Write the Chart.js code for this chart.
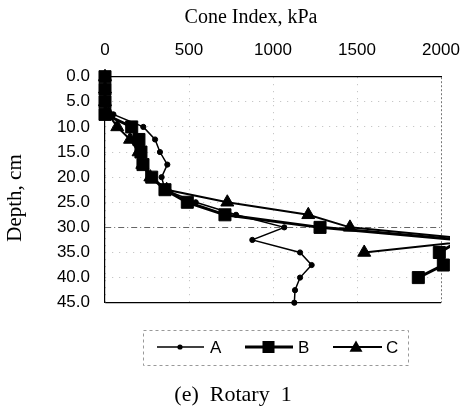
<!DOCTYPE html>
<html>
<head>
<meta charset="utf-8">
<script src="https://cdn.jsdelivr.net/npm/chart.js@4/dist/chart.umd.min.js"></script>
<style>
html,body{margin:0;padding:0;background:#fff;}
canvas{display:block;}
</style>
</head>
<body>
<canvas id="c" width="461" height="408"></canvas>
<script>
// ---- data ----
const depths  = [0, 2.5, 5, 7.5, 10, 12.5, 15, 17.5, 20, 22.5, 25, 27.5, 30, 32.5, 35, 37.5, 40, 42.5, 45];
const seriesA = [0, 0, 0, 50, 228, 298, 327, 371, 337, 357, 540, 780, 1067, 877, 1161, 1230, 1161, 1131, 1127];
const seriesB = [0, 0, 0, 0, 159, 202, 214, 226, 278, 357, 490, 714, 1280, 2120, 1990, 2014, 1865, null, null];
const seriesC = [0, 0, 0, 20, 73, 149, 200, 222, 270, 367, 728, 1210, 1458, 2230, 1543, null, null, null, null];
const seriesNames = ['A', 'B', 'C'];
const xTicks = [0, 500, 1000, 1500, 2000];
const yTicks = [0, 5, 10, 15, 20, 25, 30, 35, 40, 45];
const xTitle = 'Cone Index, kPa';
const yTitle = 'Depth, cm';
const caption = '(e)  Rotary  1';

function toPoints(vals) {
  const out = [];
  vals.forEach((v, i) => { if (v !== null) out.push({x: v, y: depths[i]}); });
  return out;
}

const clipBox = {left: 12, top: 12, right: 9, bottom: 12};

const datasets = [
  {label: seriesNames[0], data: toPoints(seriesA), borderColor: '#000', backgroundColor: '#000',
   borderWidth: 1.5, pointStyle: 'circle', pointRadius: 2.6, pointBorderWidth: 1, clip: clipBox},
  {label: seriesNames[1], data: toPoints(seriesB), borderColor: '#000', backgroundColor: '#000',
   borderWidth: 3, pointStyle: 'rect', pointRadius: 8.5, pointBorderWidth: 1, clip: clipBox},
  {label: seriesNames[2], data: toPoints(seriesC), borderColor: '#000', backgroundColor: '#000',
   borderWidth: 2, pointStyle: 'triangle', pointRadius: 7.5, pointBorderWidth: 1, clip: clipBox}
];

function drawMarker(ctx, style, r, x, y) {
  ctx.beginPath();
  if (style === 'circle') {
    ctx.arc(x, y, r, 0, Math.PI * 2);
  } else if (style === 'rect') {
    const s = Math.SQRT1_2 * r;
    ctx.rect(x - s, y - s, 2 * s, 2 * s);
  } else if (style === 'triangle') {
    let a = 0;
    ctx.moveTo(x + Math.sin(a) * r, y - Math.cos(a) * r);
    a += Math.PI * 2 / 3;
    ctx.lineTo(x + Math.sin(a) * r, y - Math.cos(a) * r);
    a += Math.PI * 2 / 3;
    ctx.lineTo(x + Math.sin(a) * r, y - Math.cos(a) * r);
    ctx.closePath();
  }
  ctx.fill();
}

const annot = {
  id: 'annot',
  afterDraw(chart) {
    const ctx = chart.ctx;
    ctx.save();
    ctx.fillStyle = '#000';
    ctx.textAlign = 'center';
    ctx.textBaseline = 'middle';
    ctx.font = '20px "Liberation Serif"';
    ctx.fillText(xTitle, 251, 18);
    ctx.save();
    ctx.translate(15, 198);
    ctx.rotate(-Math.PI / 2);
    ctx.font = '21px "Liberation Serif"';
    ctx.fillText(yTitle, 0, 0);
    ctx.restore();

    // legend box
    ctx.save();
    ctx.setLineDash([3, 3]);
    ctx.strokeStyle = '#999';
    ctx.lineWidth = 1;
    ctx.strokeRect(143.5, 330.5, 265, 35);
    ctx.restore();

    const ly = 347;
    const items = [[157, 204, 180, 210], [245, 293, 268.5, 298], [333, 382, 356, 386]];
    chart.data.datasets.forEach((ds, i) => {
      const [x0, x1, mx, tx] = items[i];
      ctx.strokeStyle = '#000';
      ctx.lineWidth = ds.borderWidth;
      ctx.beginPath(); ctx.moveTo(x0, ly); ctx.lineTo(x1, ly); ctx.stroke();
      ctx.fillStyle = '#000';
      drawMarker(ctx, ds.pointStyle, ds.pointRadius, mx, ly + (ds.pointStyle === 'triangle' ? 1 : 0));
      ctx.font = '17px "Liberation Sans"';
      ctx.textAlign = 'left';
      ctx.textBaseline = 'middle';
      ctx.fillText(ds.label, tx, ly + 1);
    });

    ctx.font = '22px "Liberation Serif"';
    ctx.textAlign = 'center';
    ctx.textBaseline = 'alphabetic';
    ctx.fillText(caption, 233, 401);
    ctx.restore();
  }
};

new Chart(document.getElementById('c'), {
  type: 'scatter',
  data: {datasets},
  options: {
    responsive: false,
    animation: false,
    showLine: true,
    layout: {padding: {left: 0, top: 0, right: 20, bottom: 105.3}},
    plugins: {legend: {display: false}, tooltip: {enabled: false}},
    elements: {line: {tension: 0}},
    scales: {
      x: {
        type: 'linear', position: 'top', min: 0, max: 2000,
        afterBuildTicks: s => { s.ticks = xTicks.map(v => ({value: v})); },
        afterFit: s => { s.height = 76.7; s.paddingLeft = 0; s.paddingRight = 0; },
        ticks: {color: '#000', font: {family: 'Liberation Sans', size: 17}, padding: 16,
          callback: v => String(v)},
        grid: {
          drawTicks: false,
          color: c => (c.tick && c.tick.value === 2000) ? '#777' : '#bbb',
          lineWidth: 1
        },
        border: {color: '#000', width: 1.2,
          dash: c => (c.tick && c.tick.value === 2000) ? [2, 2] : [1, 6]}
      },
      y: {
        type: 'linear', position: 'left', min: 0, max: 45, reverse: true,
        afterBuildTicks: s => { s.ticks = yTicks.map(v => ({value: v})); },
        afterFit: s => { s.width = 105; s.paddingTop = 0; s.paddingBottom = 0; },
        ticks: {color: '#000', font: {family: 'Liberation Sans', size: 17}, padding: 15,
          callback: v => Number(v).toFixed(1)},
        grid: {
          drawTicks: false,
          color: c => {
            if (!c.tick) return '#bbb';
            if (c.tick.value === 45) return '#000';
            if (c.tick.value === 30) return '#666';
            return '#bbb';
          },
          lineWidth: c => (c.tick && c.tick.value === 45) ? 1.2 : 1
        },
        border: {color: '#000', width: 1.2,
          dash: c => {
            if (!c.tick) return [];
            if (c.tick.value === 45) return [];
            if (c.tick.value === 30) return [6, 3, 1, 3];
            return [1, 6];
          }}
      }
    }
  },
  plugins: [annot]
});
</script>
</body>
</html>
